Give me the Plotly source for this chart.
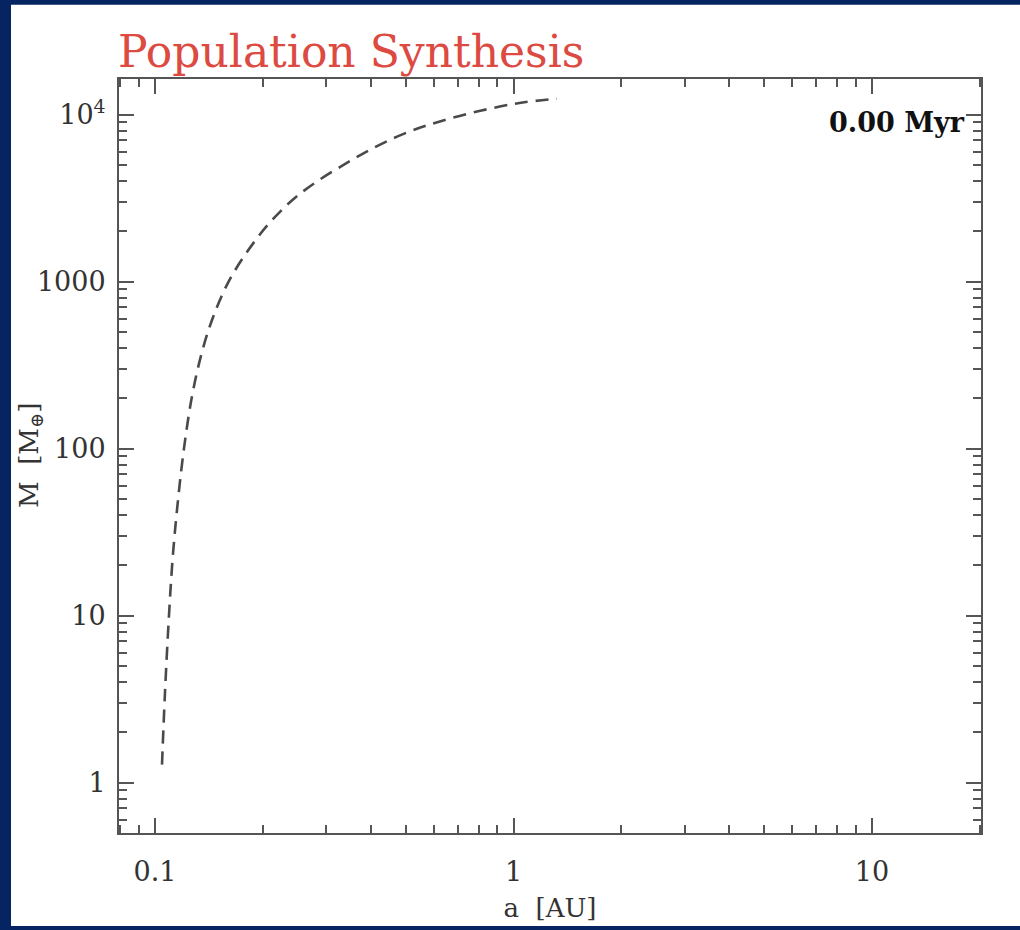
import plotly.graph_objects as go

# Data (semi-major axis in AU, mass in Earth masses)
a_au = [0.1046, 0.1066, 0.1094, 0.1122, 0.1159, 0.1205, 0.1268, 0.1352, 0.1451,
        0.1598, 0.1805, 0.2093, 0.2538, 0.3499, 0.4825, 0.6652, 1.0097, 1.322]
mass_me = [1.28, 3.42, 10.0, 23.1, 48.9, 100.7, 205, 378, 610,
           983, 1501, 2261, 3357, 5266, 7510, 9469, 11620, 12440]

x_tickvals = [0.1, 1, 10]
x_ticktext = ["0.1", "1", "10"]
y_tickvals = [1, 10, 100, 1000, 10000]
y_ticktext = ["1", "10", "100", "1000", "10<sup>4</sup>"]
minor_mult = [2, 3, 4, 5, 6, 7, 8, 9]
x_minor = [m * 10.0 ** k for k in range(-2, 2) for m in minor_mult]
y_minor = [m * 10.0 ** k for k in range(-1, 4) for m in minor_mult]

W, H = 1020, 930
L, R, T, B = 119, 981, 79, 841
pw, ph = R - L, B - T

def px(xp):
    return (xp - L) / pw

def py(yp):
    return (B - yp) / ph

FONT = "DejaVu Serif"
AX = "#555555"
TXT = "#333333"

fig = go.Figure()
fig.add_trace(go.Scatter(
    x=a_au, y=mass_me, mode="lines",
    line=dict(color="#4a4a4a", width=2.6, dash="13px,8px", shape="spline", smoothing=1),
    hoverinfo="skip", showlegend=False,
))

axis_common = dict(
    type="log", showgrid=False, zeroline=False,
    showline=True, linecolor=AX, linewidth=2,
    ticks="inside", ticklen=15, tickwidth=1.5, tickcolor=AX,
    mirror="allticks",
    tickfont=dict(family=FONT, size=27, color=TXT),
)

fig.update_xaxes(
    **axis_common,
    range=[-1.1004, 1.304],
    tickmode="array", tickvals=x_tickvals, ticktext=x_ticktext,
    minor=dict(tickmode="array", tickvals=x_minor, ticks="inside", ticklen=8,
               tickwidth=1.5, tickcolor=AX, showgrid=False),
    ticklabelstandoff=14,
    title=dict(text="a  [AU]", font=dict(family=FONT, size=26, color=TXT), standoff=12),
)
fig.update_yaxes(
    **axis_common,
    range=[-0.302, 4.213],
    tickmode="array", tickvals=y_tickvals, ticktext=y_ticktext,
    minor=dict(tickmode="array", tickvals=y_minor, ticks="inside", ticklen=8,
               tickwidth=1.5, tickcolor=AX, showgrid=False),
    ticklabelstandoff=6,
)

fig.add_shape(type="rect", xref="paper", yref="paper",
              x0=px(11), x1=px(W + 5), y0=py(H + 5), y1=py(4),
              fillcolor="white", line=dict(width=0), layer="below")

fig.add_annotation(text="M  [M<sub>⊕</sub>]", xref="paper", yref="paper",
                   x=px(30), y=py(460), xanchor="center", yanchor="middle",
                   textangle=-90, showarrow=False,
                   font=dict(family=FONT, size=26, color=TXT))
fig.add_annotation(text="Population Synthesis", xref="paper", yref="paper",
                   x=px(116), y=py(51), xanchor="left", yanchor="middle",
                   showarrow=False, font=dict(family=FONT, size=44, color="#dc4a42"))
fig.add_annotation(text="<b>0.00 Myr</b>", xref="paper", yref="paper",
                   x=px(967), y=py(123), xanchor="right", yanchor="middle",
                   showarrow=False, font=dict(family=FONT, size=27, color="#111111"))

fig.update_layout(
    width=W, height=H,
    margin=dict(l=L, r=W - R, t=T, b=H - B),
    paper_bgcolor="#062461", plot_bgcolor="white",
    showlegend=False,
)

fig.write_html("out.html")
